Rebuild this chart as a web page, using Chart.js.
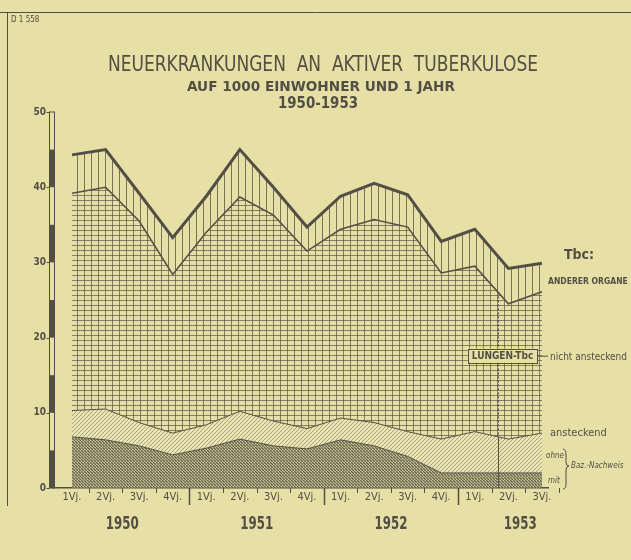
<!DOCTYPE html>
<html>
<head>
<meta charset="utf-8">
<script src="https://cdn.jsdelivr.net/npm/chart.js@4/dist/chart.umd.min.js"></script>
<style>
  html, body { margin: 0; padding: 0; background: #e6dfa6; }
  canvas { display: block; }
</style>
</head>
<body>
<canvas id="chart" width="631" height="560"></canvas>
<script>
// Neuerkrankungen an aktiver Tuberkulose, 1950-1953 (quarterly)

const QUARTERS = ['1Vj.', '2Vj.', '3Vj.', '4Vj.', '1Vj.', '2Vj.', '3Vj.', '4Vj.',
                  '1Vj.', '2Vj.', '3Vj.', '4Vj.', '1Vj.', '2Vj.', '3Vj.'];
const YEARS = ['1950', '1951', '1952', '1953'];
const Y_TICKS = [0, 10, 20, 30, 40, 50];

// upper boundary of each band (per 1000 inhabitants and year)
const MIT_BAZ = [6.8, 6.4, 5.6, 4.4, 5.3, 6.5, 5.6, 5.2, 6.4, 5.6, 4.2, 2.0, 2.0, 2.0, 2.0];
const ANSTECKEND = [10.3, 10.5, 8.7, 7.3, 8.4, 10.2, 8.9, 7.9, 9.3, 8.7, 7.5, 6.5, 7.5, 6.5, 7.3];
const LUNGEN_TBC = [39.2, 40.0, 35.5, 28.4, 34.0, 38.7, 36.3, 31.5, 34.4, 35.7, 34.7, 28.6, 29.5, 24.5, 26.1];
const TBC_GESAMT = [44.3, 45.0, 39.2, 33.3, 38.8, 45.0, 40.0, 34.7, 38.8, 40.5, 39.0, 32.8, 34.4, 29.2, 29.9];

// change of reporting between 1/1953 and 2/1953 (dotted line)
const BREAK_AT = 12.7;

const BG = '#e6dfa6';
const INK = '#534f45';
const NARROW = '"Liberation Sans Narrow", "DejaVu Sans Condensed", "Roboto Condensed", sans-serif';

const canvas = document.getElementById('chart');
const ctx = canvas.getContext('2d');

function makePattern(w, h, draw) {
  const tile = document.createElement('canvas');
  tile.width = w;
  tile.height = h;
  draw(tile.getContext('2d'), w, h);
  return ctx.createPattern(tile, 'repeat');
}

const verticalPattern = makePattern(7, 7, (g, w, h) => {
  g.fillStyle = 'rgba(80,76,62,0.75)';
  g.fillRect(0, 0, 1, h);
});

const gridPattern = makePattern(7, 5, (g, w, h) => {
  g.fillStyle = 'rgba(80,76,62,0.65)';
  g.fillRect(0, 0, 1, h);
  g.fillRect(0, 0, w, 1);
});

const hatchPattern = makePattern(4, 4, (g, w, h) => {
  g.fillStyle = 'rgba(240,236,190,0.5)';
  g.fillRect(0, 0, w, h);
  g.fillStyle = 'rgba(110,104,80,0.55)';
  for (let i = 0; i < 4; i++) g.fillRect(i, 3 - i, 1, 1);
});

const crossPattern = makePattern(3, 3, (g, w, h) => {
  g.fillStyle = 'rgba(150,144,110,0.9)';
  g.fillRect(0, 0, w, h);
  g.fillStyle = 'rgba(95,90,70,0.9)';
  g.fillRect(0, 0, 1, 1);
  g.fillRect(1, 1, 1, 1);
  g.fillRect(2, 2, 1, 1);
  g.fillStyle = 'rgba(215,210,165,0.8)';
  g.fillRect(2, 0, 1, 1);
  g.fillRect(0, 2, 1, 1);
});

function series(values) {
  return values.map((v, i) => ({ x: i, y: v }));
}

function text(c, str, x, y, font, align) {
  c.font = font;
  c.textAlign = align || 'left';
  c.textBaseline = 'middle';
  c.fillStyle = INK;
  c.fillText(str, x, y);
}

// centred text squeezed/stretched horizontally to a given width
function fitText(c, str, cx, y, font, width) {
  c.save();
  c.font = font;
  const w = c.measureText(str).width;
  c.translate(cx, y);
  c.scale(width / w, 1);
  text(c, str, 0, 0, font, 'center');
  c.restore();
}

const backdrop = {
  id: 'backdrop',
  beforeDraw(chart) {
    const c = chart.ctx;
    c.save();
    c.fillStyle = BG;
    c.fillRect(0, 0, chart.width, chart.height);
    c.restore();
  }
};

const decorations = {
  id: 'decorations',
  afterDatasetsDraw(chart) {
    const c = chart.ctx;
    const xs = chart.scales.x;
    const ys = chart.scales.y;
    const area = chart.chartArea;
    c.save();

    // break line: dotted through the grid, solid below
    const i0 = Math.floor(BREAK_AT);
    const t = BREAK_AT - i0;
    const lerp = (arr) => arr[i0] + t * (arr[i0 + 1] - arr[i0]);
    const bx = Math.round(xs.getPixelForValue(BREAK_AT)) + 0.5;
    c.strokeStyle = INK;
    c.lineWidth = 1;
    c.setLineDash([2, 2]);
    c.beginPath();
    c.moveTo(bx, ys.getPixelForValue(lerp(LUNGEN_TBC)));
    c.lineTo(bx, ys.getPixelForValue(lerp(ANSTECKEND)));
    c.stroke();
    c.setLineDash([]);
    c.beginPath();
    c.moveTo(bx, ys.getPixelForValue(lerp(ANSTECKEND)));
    c.lineTo(bx, area.bottom);
    c.stroke();

    // LUNGEN-Tbc label box
    const ly = ys.getPixelForValue(17.6);
    c.font = 'bold 10px ' + NARROW;
    const lw = c.measureText('LUNGEN-Tbc').width + 8;
    const lx = bx + 4 - lw / 2;
    c.fillStyle = BG;
    c.fillRect(lx, ly - 7, lw, 14);
    c.strokeRect(Math.round(lx) + 0.5, Math.round(ly - 7) + 0.5, Math.round(lw), 14);
    c.beginPath();
    c.moveTo(lx + lw, ly + 0.5);
    c.lineTo(area.right, ly + 0.5);
    c.stroke();
    text(c, 'LUNGEN-Tbc', lx + lw / 2, ly + 1, 'bold 10px ' + NARROW, 'center');
    c.restore();
  },
  afterDraw(chart) {
    const c = chart.ctx;
    const xs = chart.scales.x;
    const ys = chart.scales.y;
    const area = chart.chartArea;
    c.save();
    c.strokeStyle = INK;
    c.fillStyle = INK;

    // frame lines
    c.lineWidth = 1;
    c.beginPath();
    c.moveTo(0, 12.5); c.lineTo(chart.width, 12.5);
    c.moveTo(7.5, 12); c.lineTo(7.5, 506);
    c.stroke();
    text(c, 'D 1 558', 11, 20, '8px ' + NARROW);

    // titles (condensed lettering)
    fitText(c, 'NEUERKRANKUNGEN  AN  AKTIVER  TUBERKULOSE', 323, 66, '21px ' + NARROW, 430);
    fitText(c, 'AUF 1000 EINWOHNER UND 1 JAHR', 321, 87, 'bold 14px ' + NARROW, 268);
    fitText(c, '1950-1953', 318, 104, 'bold 15px ' + NARROW, 80);

    // y scale bar with alternating segments
    const barL = area.left - 3.5, barW = 5;
    const y0 = ys.getPixelForValue(0), y50 = ys.getPixelForValue(50);
    for (let v = 0; v < 50; v += 10) {
      const a = ys.getPixelForValue(v), b = ys.getPixelForValue(v + 5);
      c.fillRect(barL, b, barW, a - b);
    }
    c.strokeRect(barL, y50, barW, y0 - y50);
    Y_TICKS.forEach(v => {
      const py = Math.round(ys.getPixelForValue(v)) + 0.5;
      c.beginPath();
      c.moveTo(barL - 3, py); c.lineTo(barL, py);
      c.stroke();
    });

    // quarter ticks and year separators
    for (let i = 0; i < QUARTERS.length; i++) {
      const px = Math.round(xs.getPixelForValue(i + 0.5)) + 0.5;
      const isYear = (i + 1) % 4 === 0;
      c.lineWidth = isYear ? 1.5 : 1;
      c.beginPath();
      c.moveTo(px, area.bottom);
      c.lineTo(px, area.bottom + (isYear ? 17 : 5));
      c.stroke();
    }
    YEARS.forEach((yr, k) => {
      const px = xs.getPixelForValue(k * 4 + 1.5);
      fitText(c, yr, px - (k === 3 ? 5 : 0), 525, 'bold 17px ' + NARROW, 33);
    });

    // right side legend texts
    text(c, 'Tbc:', 564, 255, 'bold 14px ' + NARROW);
    text(c, 'ANDERER ORGANE', 548, 282, 'bold 8.5px ' + NARROW);
    text(c, 'nicht ansteckend', 550, 357, '10px ' + NARROW);
    text(c, 'ansteckend', 550, 433, '11px ' + NARROW);
    text(c, 'ohne', 546, 456, 'italic 8px ' + NARROW);
    text(c, 'mit', 548, 481, 'italic 8px ' + NARROW);
    c.lineWidth = 1;
    c.beginPath();
    c.moveTo(563, 449); c.quadraticCurveTo(566, 449, 566, 455);
    c.lineTo(566, 462); c.quadraticCurveTo(566, 466, 569, 466);
    c.quadraticCurveTo(566, 466, 566, 470);
    c.lineTo(566, 484); c.quadraticCurveTo(566, 489, 563, 489);
    c.stroke();
    text(c, 'Baz.-Nachweis', 571, 466, 'italic 8px ' + NARROW);
    c.restore();
  }
};

new Chart(canvas, {
  type: 'line',
  data: {
    datasets: [
      {
        label: 'mit Baz.-Nachweis',
        data: series(MIT_BAZ),
        backgroundColor: crossPattern,
        borderColor: INK,
        borderWidth: 1,
        fill: 'origin'
      },
      {
        label: 'ohne Baz.-Nachweis (ansteckend)',
        data: series(ANSTECKEND),
        backgroundColor: hatchPattern,
        borderColor: INK,
        borderWidth: 1,
        fill: '-1'
      },
      {
        label: 'Lungen-Tbc nicht ansteckend',
        data: series(LUNGEN_TBC),
        backgroundColor: gridPattern,
        borderColor: INK,
        borderWidth: 1.5,
        fill: '-1'
      },
      {
        label: 'Tbc anderer Organe',
        data: series(TBC_GESAMT),
        backgroundColor: verticalPattern,
        borderColor: INK,
        borderWidth: 3,
        fill: '-1'
      }
    ]
  },
  options: {
    responsive: false,
    animation: false,
    devicePixelRatio: 1,
    layout: { padding: { top: 112, left: 8, right: 83, bottom: 0 } },
    elements: {
      point: { radius: 0 },
      line: { tension: 0, borderJoinStyle: 'miter' }
    },
    plugins: {
      legend: { display: false },
      title: { display: false },
      tooltip: { enabled: false }
    },
    scales: {
      x: {
        type: 'linear',
        min: -0.566,
        max: 14.18,
        afterBuildTicks(scale) {
          scale.ticks = QUARTERS.map((q, i) => ({ value: i }));
        },
        afterFit(scale) { scale.height = 72; },
        grid: { display: false, drawTicks: false },
        border: { display: true, color: INK, width: 1.5 },
        ticks: {
          autoSkip: false,
          maxRotation: 0,
          padding: 3,
          color: INK,
          font: { family: NARROW, size: 11 },
          callback: (v) => QUARTERS[v]
        }
      },
      y: {
        min: 0,
        max: 50,
        afterBuildTicks(scale) {
          scale.ticks = Y_TICKS.map(v => ({ value: v }));
        },
        afterFit(scale) { scale.width = 45; },
        grid: { display: false, drawTicks: false },
        border: { display: false },
        ticks: {
          padding: 7,
          color: INK,
          font: { family: NARROW, size: 10, weight: 'bold' }
        }
      }
    }
  },
  plugins: [backdrop, decorations]
});
</script>
</body>
</html>
